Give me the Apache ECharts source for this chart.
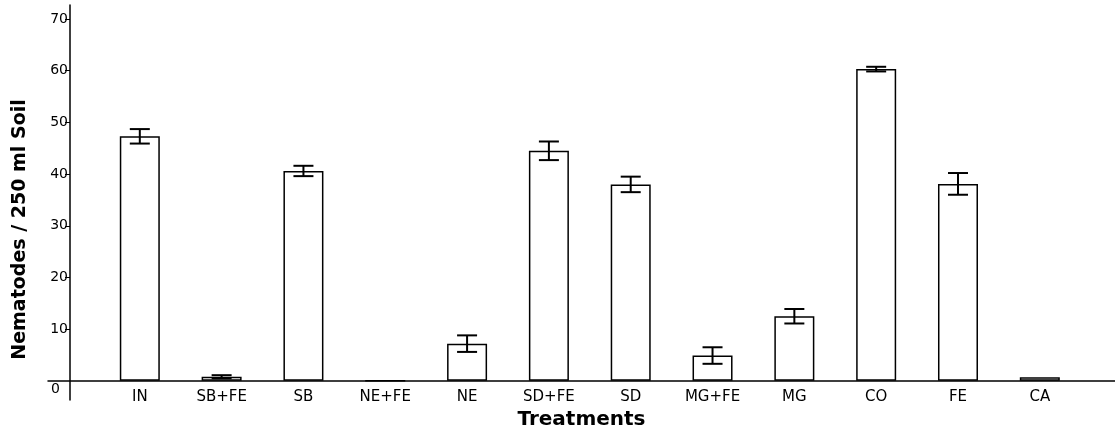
<!DOCTYPE html>
<html>
<head>
<meta charset="utf-8">
<script src="https://cdn.jsdelivr.net/npm/echarts@6/dist/echarts.min.js"></script>
<style>
  html, body { margin: 0; padding: 0; background: #fff; }
  #chart { width: 1115px; height: 436px; }
</style>
</head>
<body>
<div id="chart"></div>
<script>
// treatments along the x axis
const treatments = ['IN', 'SB+FE', 'SB', 'NE+FE', 'NE', 'SD+FE', 'SD', 'MG+FE', 'MG', 'CO', 'FE', 'CA'];
// mean nematodes per 250 ml soil
const means = [47.3, 0.8, 40.6, 0, 7.2, 44.5, 38.0, 4.9, 12.5, 60.3, 38.1, 0.7];
// half height of the error bars
const errors = [1.4, 0.3, 1.0, 0, 1.6, 1.8, 1.5, 1.6, 1.4, 0.45, 2.1, 0];
const yTicks = [10, 20, 30, 40, 50, 60, 70];
const yLabels = [0, 10, 20, 30, 40, 50, 60, 70];

const chart = echarts.init(document.getElementById('chart'));

const barData = means.map((v, i) => [i, v]);
const errData = means.map((v, i) => [i, v - errors[i], v + errors[i]]);

const font = 'DejaVu Sans, Arial, sans-serif';

chart.setOption({
  animation: false,
  backgroundColor: '#fff',
  grid: { left: 48, right: 0, top: 5, bottom: 36, containLabel: false, outerBoundsMode: 'none' },
  xAxis: {
    type: 'value',
    min: -1.122,
    max: 11.919,
    name: 'Treatments',
    nameLocation: 'middle',
    nameGap: 4,
    nameTextStyle: { fontFamily: font, fontWeight: 'bold', fontSize: 20, color: '#000' },
    axisLine: { onZero: true, lineStyle: { color: '#000', width: 1.5 } },
    axisTick: { show: false },
    splitLine: { show: false },
    axisLabel: {
      customValues: treatments.map((t, i) => i),
      formatter: v => treatments[v],
      fontFamily: font,
      fontSize: 15,
      color: '#000',
      margin: -10
    }
  },
  yAxis: {
    type: 'value',
    min: -3.7,
    max: 72.7,
    offset: -22,
    name: 'Nematodes / 250 ml Soil',
    nameLocation: 'middle',
    nameGap: 40,
    nameTextStyle: {
      fontFamily: font, fontWeight: 'bold', fontSize: 19, color: '#000',
      padding: [0, 54, 0, 0]
    },
    axisLine: { show: true, onZero: false, lineStyle: { color: '#000', width: 1.5 } },
    axisTick: { show: true, customValues: yTicks, length: 5, lineStyle: { color: '#000', width: 1 } },
    splitLine: { show: false },
    axisLabel: {
      customValues: yLabels,
      formatter: v => (v === 0 ? '{z|0}' : String(v)),
      fontFamily: font,
      fontSize: 14,
      color: '#000',
      margin: 2,
      rich: { z: { fontFamily: font, fontSize: 14, color: '#000', padding: [16, 8, 0, 0] } }
    }
  },
  series: [
    {
      type: 'bar',
      data: barData,
      barWidth: 40,
      itemStyle: { color: '#fff', borderColor: '#000', borderWidth: 1.5 }
    },
    {
      type: 'custom',
      data: errData,
      z: 10,
      renderItem: (params, api) => {
        if (errors[params.dataIndex] === 0) return null;
        const lo = api.coord([api.value(0), api.value(1)]);
        const hi = api.coord([api.value(0), api.value(2)]);
        const half = 10;
        const style = { stroke: '#000', lineWidth: 2 };
        return {
          type: 'group',
          children: [
            { type: 'line', shape: { x1: lo[0], y1: lo[1], x2: hi[0], y2: hi[1] }, style },
            { type: 'line', shape: { x1: lo[0] - half, y1: lo[1], x2: lo[0] + half, y2: lo[1] }, style },
            { type: 'line', shape: { x1: hi[0] - half, y1: hi[1], x2: hi[0] + half, y2: hi[1] }, style }
          ]
        };
      }
    }
  ]
});
</script>
</body>
</html>
